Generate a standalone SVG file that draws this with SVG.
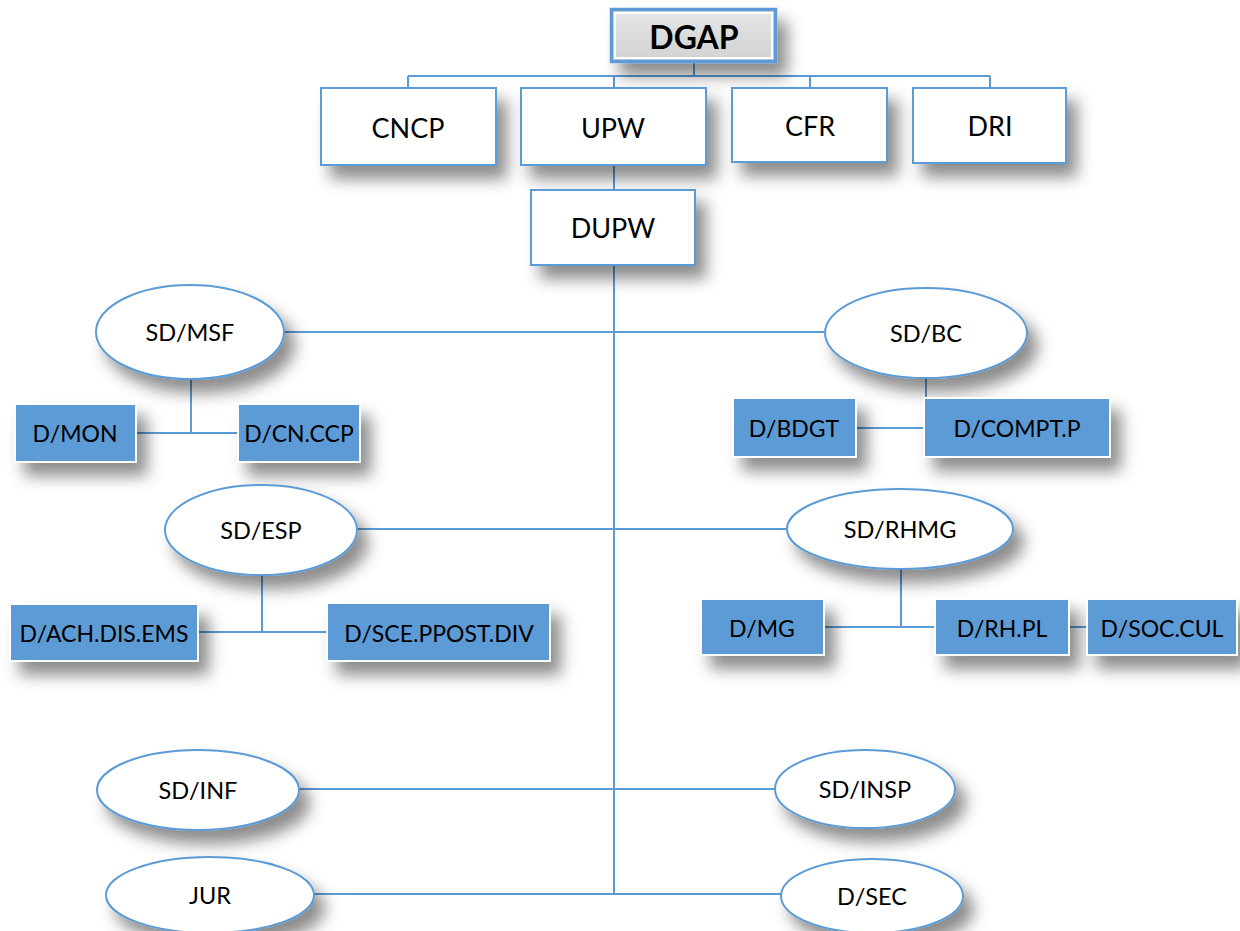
<svg xmlns="http://www.w3.org/2000/svg" width="1240" height="931" viewBox="0 0 1240 931">
<defs>
<filter id="sh" x="-40%" y="-50%" width="190%" height="220%">
<feDropShadow dx="10" dy="13" stdDeviation="8" flood-color="#000" flood-opacity="0.45"/>
</filter>
<linearGradient id="gg" x1="0" y1="0" x2="0" y2="1">
<stop offset="0" stop-color="#e6e6e6"/>
<stop offset="1" stop-color="#d2d2d2"/>
</linearGradient>
<style>
.ln{stroke:#5b9bd5;stroke-width:2;fill:none}
.wb{fill:#fff;stroke:#5b9bd5;stroke-width:2;filter:url(#sh)}
.bb{fill:#5b9bd5;stroke:#fff;stroke-width:2;filter:url(#sh)}
.el{fill:#fff;stroke:#5b9bd5;stroke-width:2;filter:url(#sh)}
text{font-family:Lato,"Open Sans","Liberation Sans",sans-serif;fill:#000;text-anchor:middle;dominant-baseline:central}
.t24{font-size:27px}
.t22{font-size:23.5px}
.t21{font-size:23px}
</style>
</defs>
<rect width="1240" height="931" fill="#fff"/>
<g id="connectors">
<path class="ln" d="M694 63V76M408 76H990M408 76V88M614 76V88M810 76V88M990 76V88"/>
<path class="ln" d="M614 165V190M614 265V894"/>
<path class="ln" d="M284 332H825M357 529H787M300 789H775M314 894H781"/>
<path class="ln" d="M191 380V433M136 433H238M926 379V398M856 428H924"/>
<path class="ln" d="M262 574V632M198 632H327M901 569V627M824 627H935M1069 627H1087"/>
</g>
<g id="DGAP">
<rect x="611.5" y="9.5" width="164" height="52" fill="url(#gg)" stroke="#5b9bd5" stroke-width="3.5" filter="url(#sh)"/>
<rect x="615" y="13" width="157" height="45" fill="none" stroke="#fff" stroke-width="2"/>
<text x="694" y="36" style="font-size:32px;font-weight:bold">DGAP</text>
</g>
<g id="CNCP"><rect class="wb" x="321" y="88" width="175" height="77"/><text class="t24" x="408" y="127">CNCP</text></g>
<g id="UPW"><rect class="wb" x="521" y="88" width="185" height="77"/><text class="t24" x="613" y="127">UPW</text></g>
<g id="CFR"><rect class="wb" x="732" y="88" width="155" height="74"/><text class="t24" x="810" y="125">CFR</text></g>
<g id="DRI"><rect class="wb" x="913" y="88" width="153" height="75"/><text class="t24" x="990" y="125">DRI</text></g>
<g id="DUPW"><rect class="wb" x="531" y="190" width="164" height="75"/><text class="t24" x="613" y="227">DUPW</text></g>
<g id="SD_MSF"><ellipse class="el" cx="190" cy="332" rx="94" ry="47"/><text class="t22" x="190" y="332">SD/MSF</text></g>
<g id="SD_BC"><ellipse class="el" cx="926" cy="333" rx="101" ry="45"/><text class="t22" x="926" y="333">SD/BC</text></g>
<g id="D_MON"><rect class="bb" x="15" y="404" width="121" height="58"/><text class="t21" x="75" y="433">D/MON</text></g>
<g id="D_CN_CCP"><rect class="bb" x="238" y="404" width="122" height="58"/><text class="t21" x="299" y="433">D/CN.CCP</text></g>
<g id="D_BDGT"><rect class="bb" x="733" y="398" width="123" height="59"/><text class="t21" x="794" y="428">D/BDGT</text></g>
<g id="D_COMPT_P"><rect class="bb" x="924" y="398" width="186" height="59"/><text class="t21" x="1017" y="428">D/COMPT.P</text></g>
<g id="SD_ESP"><ellipse class="el" cx="261" cy="530" rx="96" ry="45"/><text class="t22" x="261" y="530">SD/ESP</text></g>
<g id="SD_RHMG"><ellipse class="el" cx="900" cy="529" rx="113" ry="40"/><text class="t22" x="900" y="529">SD/RHMG</text></g>
<g id="D_ACH_DIS_EMS"><rect class="bb" x="10" y="604" width="188" height="57"/><text class="t21" x="104" y="633">D/ACH.DIS.EMS</text></g>
<g id="D_SCE_PPOST_DIV"><rect class="bb" x="327" y="603" width="223" height="58"/><text class="t21" x="439" y="633">D/SCE.PPOST.DIV</text></g>
<g id="D_MG"><rect class="bb" x="701" y="599" width="123" height="56"/><text class="t21" x="762" y="628">D/MG</text></g>
<g id="D_RH_PL"><rect class="bb" x="935" y="599" width="134" height="56"/><text class="t21" x="1002" y="628">D/RH.PL</text></g>
<g id="D_SOC_CUL"><rect class="bb" x="1087" y="599" width="150" height="56"/><text class="t21" x="1162" y="628">D/SOC.CUL</text></g>
<g id="SD_INF"><ellipse class="el" cx="198" cy="790" rx="101" ry="40"/><text class="t22" x="198" y="790">SD/INF</text></g>
<g id="SD_INSP"><ellipse class="el" cx="865" cy="789" rx="90" ry="39"/><text class="t22" x="865" y="789">SD/INSP</text></g>
<g id="JUR"><ellipse class="el" cx="210" cy="895" rx="104" ry="38"/><text class="t22" x="210" y="895">JUR</text></g>
<g id="D_SEC"><ellipse class="el" cx="872" cy="896" rx="91" ry="37"/><text class="t22" x="872" y="896">D/SEC</text></g>
</svg>
